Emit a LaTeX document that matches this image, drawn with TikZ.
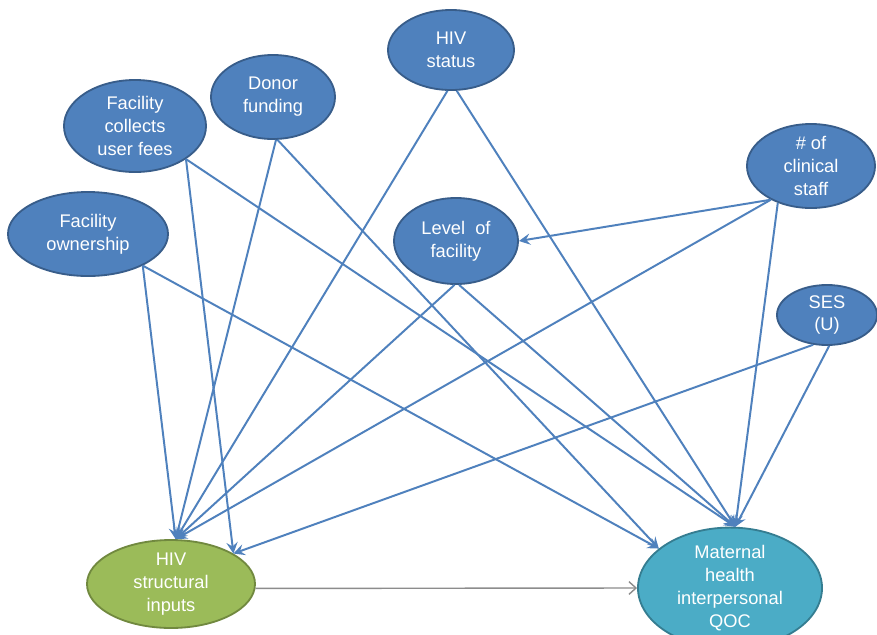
\documentclass[tikz,border=0pt]{standalone}
\usepackage{fontspec}
\setmainfont{Liberation Sans}
\usetikzlibrary{shapes.geometric,arrows.meta}
\definecolor{dagblue}{HTML}{4F81BD}
\definecolor{dagblueedge}{HTML}{385D8A}
\definecolor{daggreen}{HTML}{9BBB59}
\definecolor{daggreenedge}{HTML}{71893F}
\definecolor{dagteal}{HTML}{4BACC6}
\definecolor{dagtealedge}{HTML}{357D91}
\definecolor{daggray}{HTML}{8C8C8C}

\begin{document}
\begin{tikzpicture}[x=0.025cm, y=-0.025cm,
    var/.style={ellipse, draw=dagblueedge, fill=dagblue, line width=1.3pt, inner sep=0pt, text=white, align=center, font=\fontsize{13}{16.3}\selectfont},
    link/.style={draw=dagblue, line width=1.4pt, -{Stealth[length=8pt,width=8pt,inset=3pt]}},
]
\clip (0,0) rectangle (877,634);
\fill[white] (0,0) rectangle (877,634);

% causes
\node[var, minimum width=3.15cm, minimum height=2cm] (status) at (451,50) {HIV\\status};
\node[var, minimum width=3.1cm, minimum height=2.1cm] (donor) at (273,97) {Donor\\funding};
\node[var, minimum width=3.55cm, minimum height=2.3cm] (fees) at (135,126) {Facility\\collects\\user fees};
\node[var, minimum width=4cm, minimum height=2.1cm] (owner) at (88,234) {Facility\\ownership};
\node[var, minimum width=3.1cm, minimum height=2.15cm] (level) at (456,241) {Level\ \ of\\facility};
\node[var, minimum width=3.2cm, minimum height=2.1cm] (staff) at (811,166) {\# of\\clinical\\staff};
\node[var, minimum width=2.5cm, minimum height=1.5cm] (ses) at (827,315) {SES\\(U)};

% outcomes
\node[var, draw=daggreenedge, fill=daggreen, minimum width=4.2cm, minimum height=2.05cm] (inputs) at (171,584) {HIV\\structural\\inputs};
\node[var, draw=dagtealedge, fill=dagteal, minimum width=4.6cm, minimum height=2.3cm] (qoc) at (730,588) {Maternal\\health\\interpersonal\\QOC};

\foreach \src in {owner.-30, donor.-86, status.-95, level.-92, staff.-140}
    \draw[link] (\src) -- (inputs.84);
\foreach \src in {fees.-33, ses.-115}
    \draw[link] (\src) -- (inputs.26);
\foreach \src in {owner.-30, donor.-84}
    \draw[link] (\src) -- (qoc.151);
\foreach \src in {fees.-33, status.-82, level.-86, staff.-132, ses.-86}
    \draw[link] (\src) -- (qoc.85);
\draw[link] (staff.-140) -- (level.east);
\draw[draw=daggray, line width=1pt, -{Straight Barb[length=5pt,width=9pt]}] (inputs.-3) -- (qoc.west);
\end{tikzpicture}
\end{document}
